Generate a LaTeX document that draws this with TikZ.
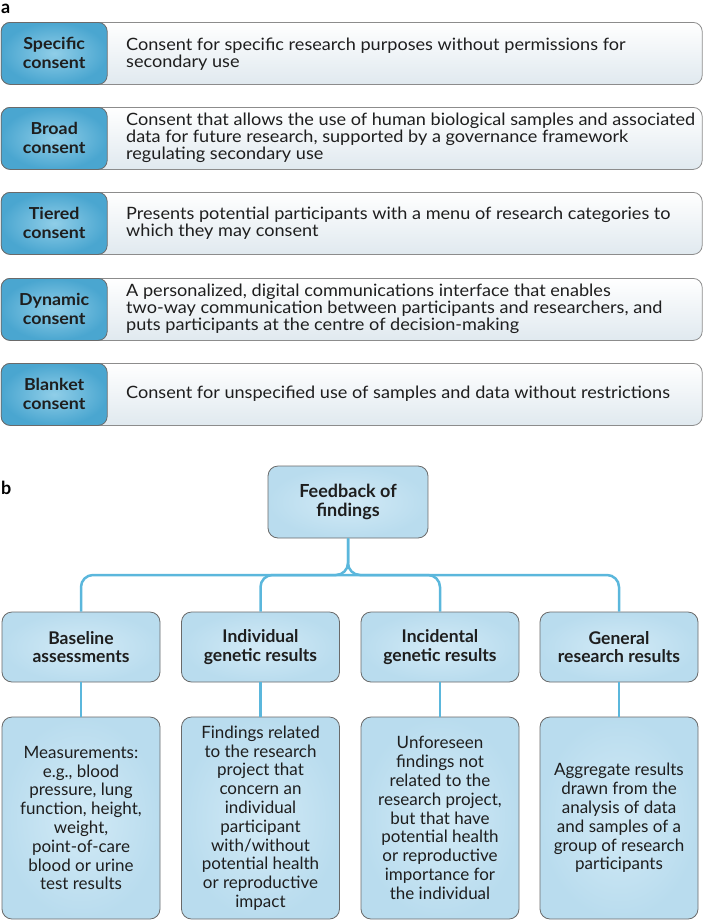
\documentclass[tikz,border=0pt]{standalone}
\usepackage{fontspec}
\setmainfont{Lato}
\newfontfamily\afont{Lato}[FakeStretch=1.065]
\newfontfamily\lfont{Lato}[FakeStretch=1.08]
\definecolor{bluedark}{HTML}{4AA6D0}
\definecolor{bluelight}{HTML}{90CEE8}
\definecolor{boxb}{HTML}{B9DCEE}
\definecolor{boxbc}{HTML}{D2EAF6}
\definecolor{linec}{HTML}{5BB7DC}
\definecolor{bord}{HTML}{6A6A6A}
\definecolor{wbord}{HTML}{8C8C8C}
\definecolor{wbot}{HTML}{E0E9EF}
\definecolor{txt}{HTML}{1E1E1E}
\begin{document}
\begin{tikzpicture}[x=1pt,y=-1pt,
  ablue/.style={draw=bord, line width=0.8pt, rounded corners=9pt, inner color=bluelight, outer color=bluedark,
    minimum width=106pt, minimum height=62pt, anchor=north west, inner sep=0pt,
    font=\lfont\fontsize{16.5}{19}\selectfont\bfseries, align=center, text=txt},
  awhite/.style={draw=wbord, line width=0.8pt, rounded corners=9pt, top color=white, bottom color=wbot,
    minimum width=701pt, minimum height=62pt, anchor=north west, inner sep=0pt},
  atext/.style={anchor=west, align=left, inner sep=0pt, text=txt, font=\afont\fontsize{17}{16.8}\selectfont},
  bbox/.style={draw=bord, line width=0.8pt, rounded corners=10pt, inner color=boxbc, outer color=boxb,
    inner sep=0pt, align=center, text=txt},
  bhead/.style={bbox, minimum width=158pt, minimum height=70pt, font=\fontsize{17.5}{18.5}\selectfont\bfseries},
  bbody/.style={bbox, minimum width=158pt, minimum height=202pt, font=\fontsize{17}{18.8}\selectfont},
  conn/.style={draw=linec, line width=2.5pt, rounded corners=12pt},
  plabel/.style={anchor=north west, inner sep=0pt, font=\fontsize{18}{18}\selectfont\bfseries}
]
\useasboundingbox (0,0) rectangle (703,921);

\node[plabel] (la) at (1,4) {a};
\node[plabel] (lb) at (1,481) {b};

% panel a rows
\foreach \t/\n in {22/r1,107/r2,192/r3,278/r4,363/r5}{
  \node[awhite] (\n w) at (0.8,\t) {};
}
\node[ablue] (r1b) at (0.8,22) {Specific\\consent};
\node[ablue] (r2b) at (0.8,107) {Broad\\consent};
\node[ablue] (r3b) at (0.8,192) {Tiered\\consent};
\node[ablue] (r4b) at (0.8,278) {Dynamic\\consent};
\node[ablue] (r5b) at (0.8,363) {Blanket\\consent};

\node[atext] (r1t) at (126,54) {Consent for specific research purposes without permissions for\\secondary use};
\node[atext] (r2t) at (126,138) {Consent that allows the use of human biological samples and associated\\data for future research, supported by a governance framework\\regulating secondary use};
\node[atext] (r3t) at (126,223) {Presents potential participants with a menu of research categories to\\which they may consent};
\node[atext] (r4t) at (126,309) {A personalized, digital communications interface that enables\\two-way communication between participants and researchers, and\\puts participants at the centre of decision-making};
\node[atext] (r5t) at (126,394) {Consent for unspecified use of samples and data without restrictions};

% panel b
\node[bbox, minimum width=160pt, minimum height=72pt, font=\fontsize{18}{19}\selectfont\bfseries] (top) at (348,502) {Feedback of\\findings};

\node[bhead] (h1) at (81,647) {Baseline\\assessments};
\node[bhead] (h2) at (260.5,647) {Individual\\genetic results};
\node[bhead] (h3) at (440,647) {Incidental\\genetic results};
\node[bhead] (h4) at (619,647) {General\\research results};

\node[bbody] (d1) at (81,818) {Measurements:\\e.g., blood\\pressure, lung\\function, height,\\weight,\\point-of-care\\blood or urine\\test results};
\node[bbody] (d2) at (260.5,818) {Findings related\\to the research\\project that\\concern an\\individual\\participant\\with/without\\potential health\\or reproductive\\impact};
\node[bbody] (d3) at (440,818) {Unforeseen\\findings not\\related to the\\research project,\\but that have\\potential health\\or reproductive\\importance for\\the individual};
\node[bbody] (d4) at (619,818) {Aggregate results\\drawn from the\\analysis of data\\and samples of a\\group of research\\participants};

\coordinate (hub) at (348,575);
\draw[conn] (top.south) -- (hub) -| (h1.north);
\draw[conn] (top.south) -- (hub) -| (h4.north);
\draw[conn] (h2.north) |- (hub);
\draw[conn] (h3.north) |- (hub);
\foreach \i in {1,2,3,4}{
  \draw[draw=linec, line width=2.5pt] (h\i.south) -- (d\i.north);
}
\end{tikzpicture}
\end{document}
